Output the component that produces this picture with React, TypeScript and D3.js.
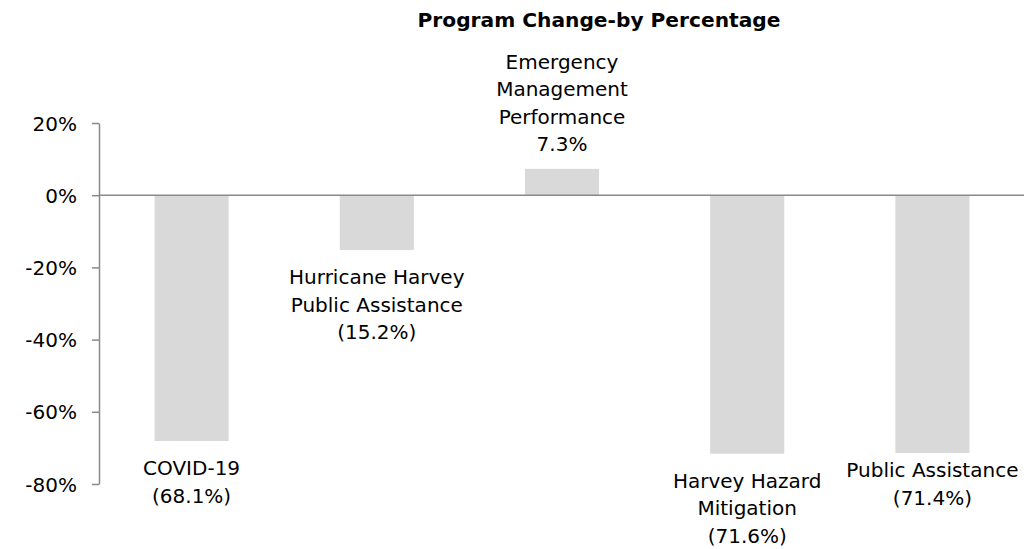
import React, { useEffect, useRef } from 'react';
import * as d3 from 'd3';

const title = 'Program Change-by Percentage';
const programs = ['COVID-19', 'Hurricane Harvey Public Assistance', 'Emergency Management Performance', 'Harvey Hazard Mitigation', 'Public Assistance'];
const labelLines = [
  ['COVID-19'],
  ['Hurricane Harvey', 'Public Assistance'],
  ['Emergency', 'Management', 'Performance'],
  ['Harvey Hazard', 'Mitigation'],
  ['Public Assistance'],
];
const changes = [-68.1, -15.2, 7.3, -71.6, -71.4];
const yTicks = [-80, -60, -40, -20, 0, 20];

const W = 1024;
const H = 549;
const FONT = '"DejaVu Sans", sans-serif';
const LINE = 27.6;
// small manual nudges like Excel's label placement
const labelNudge = [0, 0, 0, 0, -10];

const fmt = (v: number) => (v < 0 ? `(${Math.abs(v).toFixed(1)}%)` : `${v.toFixed(1)}%`);

export default function App() {
  const ref = useRef<SVGSVGElement>(null);

  useEffect(() => {
    const svg = d3.select(ref.current);
    svg.selectAll('*').remove();

    const x = d3.scaleBand<string>().domain(programs).range([99, 1025]).paddingInner(0.6).paddingOuter(0.3);
    const y = d3.scaleLinear().domain([-80, 20]).range([484, 123]);

    svg.append('text')
      .attr('x', 599).attr('y', 27)
      .attr('text-anchor', 'middle')
      .attr('font-family', FONT).attr('font-weight', 'bold').attr('font-size', 20.2)
      .attr('fill', '#000')
      .text(title);

    // bars
    svg.append('g').selectAll('rect')
      .data(changes)
      .join('rect')
      .attr('x', (_, i) => x(programs[i])!)
      .attr('width', x.bandwidth())
      .attr('y', d => y(Math.max(0, d)))
      .attr('height', d => Math.abs(y(d) - y(0)))
      .attr('fill', '#d9d9d9');

    // y axis
    const axis = d3.axisLeft(y)
      .tickValues(yTicks)
      .tickSize(7)
      .tickSizeOuter(0)
      .tickPadding(15)
      .tickFormat(d => `${d}%`);
    const ga = svg.append('g').attr('transform', 'translate(99,0)').call(axis);
    ga.select('.domain').attr('stroke', '#898989').attr('stroke-width', 1.5);
    ga.selectAll('.tick line').attr('stroke', '#898989').attr('stroke-width', 1.5);
    ga.selectAll('.tick text')
      .attr('font-family', FONT).attr('font-size', 20).attr('fill', '#000')
      .attr('dy', '0.35em');

    // zero line
    svg.append('line')
      .attr('x1', 99).attr('x2', W)
      .attr('y1', y(0)).attr('y2', y(0))
      .attr('stroke', '#898989').attr('stroke-width', 1.5);

    // data labels
    const gl = svg.append('g')
      .attr('font-family', FONT).attr('font-size', 20).attr('fill', '#000')
      .attr('text-anchor', 'middle');
    changes.forEach((v, i) => {
      const lines = [...labelLines[i], fmt(v)];
      const cx = x(programs[i])! + x.bandwidth() / 2;
      let first: number;
      if (v < 0) first = y(v) + 34 + labelNudge[i];
      else first = y(v) - 17.5 - (lines.length - 1) * LINE + labelNudge[i];
      const t = gl.append('text').attr('x', cx).attr('y', first);
      lines.forEach((ln, j) => {
        t.append('tspan').attr('x', cx).attr('dy', j === 0 ? 0 : LINE).text(ln);
      });
    });
  }, []);

  return (
    <svg
      ref={ref}
      width={W}
      height={H}
      style={{ position: 'absolute', left: 0, top: 0, background: '#fff' }}
    />
  );
}
